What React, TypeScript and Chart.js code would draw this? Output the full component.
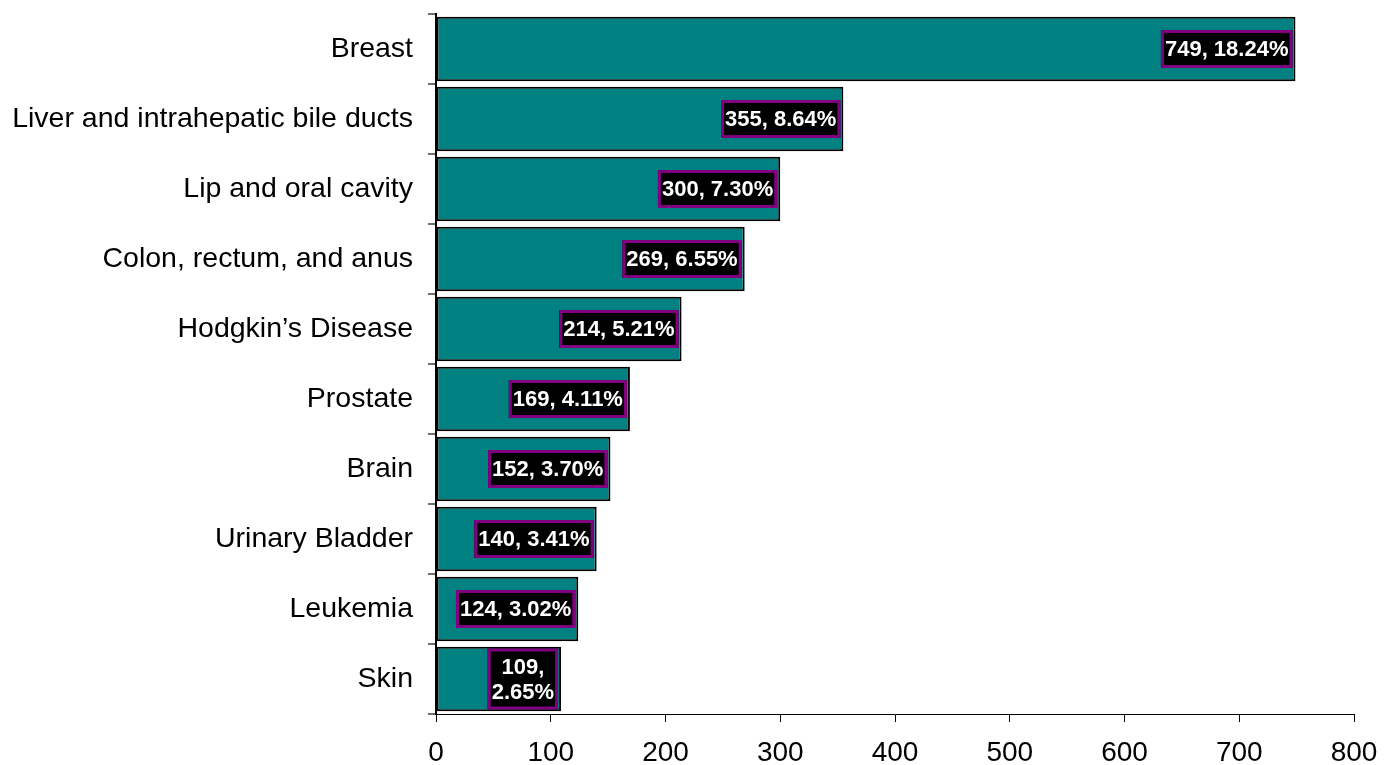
import React, { useEffect, useRef } from "react";
import { Chart, registerables } from "chart.js";

Chart.register(...registerables);

const categories = [
  "Breast",
  "Liver and intrahepatic bile ducts",
  "Lip and oral cavity",
  "Colon, rectum, and anus",
  "Hodgkin\u2019s Disease",
  "Prostate",
  "Brain",
  "Urinary Bladder",
  "Leukemia",
  "Skin",
];
const counts = [749, 355, 300, 269, 214, 169, 152, 140, 124, 109];
const percents = ["18.24%", "8.64%", "7.30%", "6.55%", "5.21%", "4.11%", "3.70%", "3.41%", "3.02%", "2.65%"];
const wrapLabel = [false, false, false, false, false, false, false, false, false, true];
const xTicks = [0, 100, 200, 300, 400, 500, 600, 700, 800];

const FONT = "'Liberation Sans', Arial, sans-serif";

const labelPlugin = {
  id: "boxLabels",
  afterDatasetsDraw(chart: any) {
    const ctx = chart.ctx;
    const meta = chart.getDatasetMeta(0);
    ctx.save();
    ctx.font = `bold 22px ${FONT}`;
    ctx.textAlign = "center";
    ctx.textBaseline = "middle";
    meta.data.forEach((bar: any, i: number) => {
      const lines = wrapLabel[i]
        ? [`${counts[i]},`, percents[i]]
        : [`${counts[i]}, ${percents[i]}`];
      const tw = Math.max(...lines.map((l) => ctx.measureText(l).width));
      const lh = 25;
      const w = tw + 8;
      const h = lines.length === 1 ? 38 : 61;
      const right = bar.x - 3;
      const left = right - w;
      const top = bar.y - h / 2;
      ctx.fillStyle = "#000000";
      ctx.fillRect(left, top, w, h);
      ctx.strokeStyle = "#800080";
      ctx.lineWidth = 3;
      ctx.strokeRect(left + 1.5, top + 1.5, w - 3, h - 3);
      ctx.fillStyle = "#ffffff";
      const cx = left + w / 2;
      const startY = bar.y - ((lines.length - 1) * lh) / 2 + 1;
      lines.forEach((l, k) => ctx.fillText(l, cx, startY + k * lh));
    });
    ctx.restore();
  },
};

export default function App() {
  const ref = useRef<HTMLCanvasElement>(null);
  useEffect(() => {
    if (!ref.current) return;
    const chart = new Chart(ref.current, {
      type: "bar",
      data: {
        labels: categories,
        datasets: [
          {
            data: counts,
            backgroundColor: "#008080",
            borderColor: "#000000",
            borderWidth: 2,
            borderSkipped: false,
            barPercentage: 0.92,
            categoryPercentage: 1,
          },
        ],
      },
      options: {
        indexAxis: "y",
        animation: false,
        responsive: false,
        layout: { padding: { top: 14, right: 37, left: 0, bottom: 0 } },
        plugins: {
          legend: { display: false },
          tooltip: { enabled: false },
        },
        scales: {
          x: {
            min: 0,
            max: 800,
            afterBuildTicks: (scale: any) => {
              scale.ticks = xTicks.map((v) => ({ value: v }));
            },
            afterFit: (scale: any) => {
              scale.height = 51;
              scale.paddingLeft = 0;
              scale.paddingRight = 0;
            },
            border: { display: true, color: "#000000", width: 1 },
            grid: {
              drawOnChartArea: false,
              drawTicks: true,
              tickLength: 8,
              color: "#000000",
            },
            ticks: {
              color: "#000000",
              font: { family: FONT, size: 28 },
              padding: 14,
              maxRotation: 0,
            },
          },
          y: {
            afterFit: (scale: any) => {
              scale.width = 436;
              scale.paddingTop = 0;
              scale.paddingBottom = 0;
            },
            border: { display: true, color: "#000000", width: 2 },
            grid: {
              offset: true,
              drawOnChartArea: false,
              drawTicks: true,
              tickLength: 8,
              color: "#6e6e6e",
              lineWidth: 2,
            },
            ticks: {
              color: "#000000",
              font: { family: FONT, size: 28.5 },
              padding: 15,
              autoSkip: false,
            },
          },
        },
      },
      plugins: [labelPlugin],
    } as any);
    return () => chart.destroy();
  }, []);
  return (
    <div style={{ position: "absolute", left: 0, top: 0, width: 1391, height: 765, background: "#fff" }}>
      <canvas ref={ref} width={1391} height={765} />
    </div>
  );
}
